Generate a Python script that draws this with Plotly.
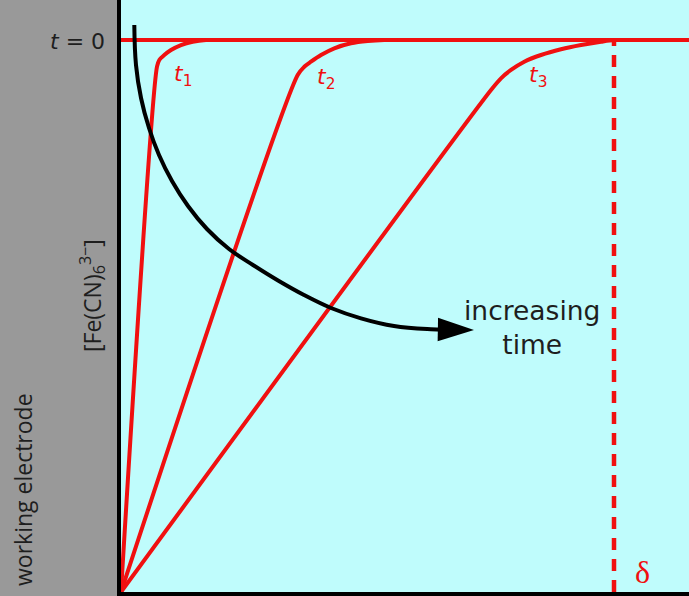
import plotly.graph_objects as go

# Normalised distance from electrode (delta = 1) and normalised concentration (bulk = 1)
t0_dist = [0.0, 1.16]
t0_conc = [1.0, 1.0]

t1_dist = [0.0, 0.073, 0.0777, 0.0878, 0.1014, 0.1217, 0.1454, 0.1724, 0.20]
t1_conc = [0.0, 0.9516, 0.9638, 0.9728, 0.9819, 0.9909, 0.9969, 1.0, 1.0]

t2_dist = [0.0, 0.3584, 0.3718, 0.3854, 0.4057, 0.4327, 0.4665, 0.5004, 0.534, 0.56]
t2_conc = [0.0, 0.9366, 0.9516, 0.9607, 0.9728, 0.985, 0.994, 0.9982, 1.0, 1.0]

t3_dist = [0.0, 0.7505, 0.7708, 0.7911, 0.818, 0.8519, 0.8925, 0.9331, 0.9736, 1.0, 1.03]
t3_conc = [0.0, 0.9094, 0.9306, 0.9457, 0.9607, 0.9728, 0.9832, 0.9909, 0.9969, 1.0, 1.0]

delta_dist = [1.0, 1.0]
delta_conc = [0.0, 1.0]

arrow_dist = [0.027, 0.0304, 0.0406, 0.0568, 0.0771, 0.1034, 0.1359, 0.1744, 0.2191,
              0.2677, 0.3185, 0.3712, 0.426, 0.4868, 0.5538, 0.6288, 0.716]
arrow_conc = [1.0272, 0.9547, 0.8949, 0.8406, 0.7917, 0.7446, 0.6993, 0.6576, 0.6214,
              0.5924, 0.5643, 0.538, 0.5145, 0.4958, 0.4819, 0.4759, 0.4746]

label_text = ["<i>t</i><sub>1</sub>", "<i>t</i><sub>2</sub>", "<i>t</i><sub>3</sub>"]
label_dist = [0.126, 0.416, 0.846]
label_conc = [0.935, 0.931, 0.933]

RED = "rgb(240,16,16)"
CYAN = "#BFFCFC"
GRAY = "#999999"
INK = "#1e1e1e"

fig = go.Figure()

for xs, ys in [(t0_dist, t0_conc), (t1_dist, t1_conc), (t2_dist, t2_conc), (t3_dist, t3_conc)]:
    fig.add_trace(go.Scatter(x=xs, y=ys, mode="lines",
                             line=dict(color=RED, width=4, shape="spline", smoothing=0.8),
                             hoverinfo="skip", showlegend=False))

fig.add_trace(go.Scatter(x=delta_dist, y=delta_conc, mode="lines",
                         line=dict(color=RED, width=4.5, dash="12px,9px"),
                         hoverinfo="skip", showlegend=False))

# curved "increasing time" arrow: shaft (runs to the tip, under the head)
fig.add_trace(go.Scatter(x=arrow_dist[:-1] + [arrow_dist[-1] - 0.03], y=arrow_conc,
                         mode="lines",
                         line=dict(color="black", width=4, shape="spline", smoothing=1.1),
                         hoverinfo="skip", showlegend=False))
# arrow head at the last point, oriented along the final segment
fig.add_trace(go.Scatter(x=arrow_dist[-2:], y=arrow_conc[-2:], mode="markers",
                         marker=dict(symbol="arrow", angleref="previous", size=[0, 38],
                                     color="black", opacity=1, line=dict(width=0, color="black")),
                         opacity=1, hoverinfo="skip", showlegend=False))

annotations = []
for txt, xv, yv in zip(label_text, label_dist, label_conc):
    annotations.append(dict(x=xv, y=yv, xref="x", yref="y", text=txt, showarrow=False,
                            font=dict(family="DejaVu Sans", size=22, color=RED)))

annotations += [
    dict(x=107 / 689, y=(596 - 41) / 596, xref="paper", yref="paper",
         text="<i>t</i> = 0", showarrow=False, xanchor="right", yanchor="middle",
         font=dict(family="DejaVu Sans", size=22, color=INK)),
    dict(x=1.057, y=0.036, xref="x", yref="y", text="δ", showarrow=False,
         font=dict(family="Liberation Serif", size=32, color=RED)),
    dict(x=0.834, y=0.48, xref="x", yref="y", text="increasing<br>time", showarrow=False,
         font=dict(family="DejaVu Sans", size=26.5, color=INK)),
    dict(x=23 / 689, y=(596 - 490) / 596, xref="paper", yref="paper",
         text="working electrode", showarrow=False, textangle=-90,
         xanchor="center", yanchor="middle",
         font=dict(family="Open Sans", size=23, color=INK)),
    dict(x=92 / 689, y=(596 - 296) / 596, xref="paper", yref="paper",
         text="[Fe(CN)<sub>6</sub><sup>3−</sup>]", showarrow=False, textangle=-90,
         xanchor="center", yanchor="middle",
         font=dict(family="Open Sans", size=23, color=INK)),
]

fig.update_layout(
    width=689, height=596,
    margin=dict(l=0, r=0, t=0, b=0),
    paper_bgcolor=GRAY, plot_bgcolor=CYAN,
    xaxis=dict(domain=[121 / 689, 1], range=[0, 568 / 493], showgrid=False,
               zeroline=False, showticklabels=False, ticks="",
               showline=True, linecolor="black", linewidth=4),
    yaxis=dict(domain=[4 / 596, 1], range=[0, 592 / 552], showgrid=False,
               zeroline=False, showticklabels=False, ticks="",
               showline=True, linecolor="black", linewidth=4),
    annotations=annotations,
)

fig.write_html("out.html", config={"displayModeBar": False},
               post_script="document.body.style.margin='0';document.body.style.padding='0';"
                           "document.body.style.overflow='hidden';")
